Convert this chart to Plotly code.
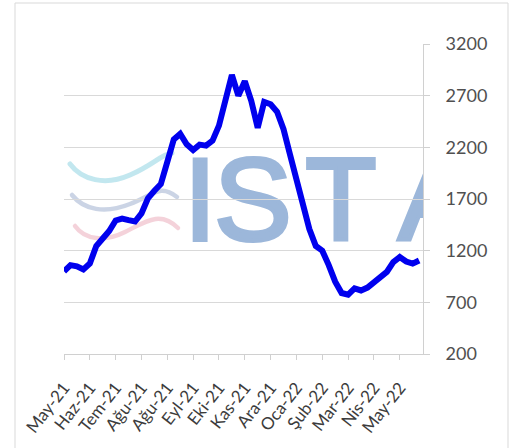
import base64
import plotly.graph_objects as go

# ---- data ----
tick_labels = ["May-21", "Haz-21", "Tem-21", "Ağu-21", "Ağu-21", "Eyl-21", "Eki-21",
               "Kas-21", "Ara-21", "Oca-22", "Şub-22", "Mar-22", "Nis-22", "May-22"]
weekly_values = [1000, 1060, 1048, 1018, 1075, 1245, 1318, 1390, 1492, 1510,
                 1495, 1482, 1560, 1707, 1780, 1845, 2060, 2277, 2330, 2230,
                 2174, 2226, 2216, 2265, 2410, 2680, 2900, 2700, 2840, 2650,
                 2390, 2640, 2617, 2545, 2375, 2130, 1880, 1658, 1410, 1245,
                 1200, 1060, 900, 790, 775, 835, 815, 843, 895, 945,
                 995, 1090, 1138, 1095, 1075, 1105]
weeks = list(range(len(weekly_values)))
tick_positions = [i * 4 for i in range(len(tick_labels))]

# ---- layout geometry ----
W, H = 513, 448
L, R, T, B = 64, 90, 44, 94
plot_w = W - L - R
plot_h = H - T - B
x_range = [0, 55.6]
y_range = [200, 3200]
px_per_x = plot_w / (x_range[1] - x_range[0])
px_per_y = plot_h / (y_range[1] - y_range[0])

# ---- watermark logo (decorative) ----
vb_x0, vb_y0, vb_w, vb_h = 60, 140, 440, 120
svg = f'''<svg xmlns="http://www.w3.org/2000/svg" width="{vb_w}" height="{vb_h}" viewBox="0 0 {vb_w} {vb_h}">
<g fill="none" stroke-linecap="round">
<path d="M 10 24 C 22 40, 45 46, 70 35 S 100 15, 112 13" stroke="#8fd3e2" stroke-width="5" opacity="0.55"/>
<path d="M 12 55 C 24 70, 45 74, 70 64 S 100 44, 117 57" stroke="#98aacb" stroke-width="4.5" opacity="0.5"/>
<path d="M 15 86 C 25 100, 45 102, 65 92 S 100 70, 118 88" stroke="#eaa5b6" stroke-width="4.5" opacity="0.5"/>
</g>
<g fill="#9cb7da" stroke="#9cb7da" stroke-width="4" stroke-linejoin="miter"
   font-family="Liberation Sans, Arial" font-weight="normal" font-size="116" text-anchor="middle">
<text x="140" y="100">I</text>
<text x="193" y="100">S</text>
<text x="281" y="100">T</text>
<text x="377" y="100">A</text>
</g>
</svg>'''
svg_uri = "data:image/svg+xml;base64," + base64.b64encode(svg.encode()).decode()

img_x = x_range[0] + (vb_x0 - L) / px_per_x
img_y = y_range[1] - (vb_y0 - T) / px_per_y

fig = go.Figure()
fig.add_trace(go.Scatter(
    x=weeks, y=weekly_values, mode="lines",
    line=dict(color="#0000ee", width=6),
    hoverinfo="skip", showlegend=False,
))

fig.add_layout_image(dict(
    source=svg_uri, xref="x", yref="y",
    x=img_x, y=img_y,
    sizex=vb_w / px_per_x, sizey=vb_h / px_per_y,
    xanchor="left", yanchor="top", sizing="stretch", layer="below", opacity=1,
))

# outer chart border
fig.add_shape(type="rect", xref="paper", yref="paper",
              x0=(15 - L) / plot_w, x1=(508 - L) / plot_w,
              y0=(T + plot_h - 470) / plot_h, y1=(T + plot_h - 3) / plot_h,
              line=dict(color="#d9d9d9", width=1), fillcolor="rgba(0,0,0,0)", layer="below")

fig.update_layout(
    width=W, height=H,
    margin=dict(l=L, r=R, t=T, b=B),
    paper_bgcolor="white", plot_bgcolor="white",
    font=dict(family="Lato, sans-serif", size=17, color="#404040"),
    xaxis=dict(
        range=x_range, tickmode="array", tickvals=tick_positions, ticktext=tick_labels,
        tickangle=-52, showgrid=False, zeroline=False, automargin=False,
        showline=True, linecolor="#d0d0d0", linewidth=1,
        ticks="outside", ticklen=5, tickcolor="#d0d0d0",
        ticklabelstandoff=11,
        tickfont=dict(size=17, color="#3c3c3c"),
    ),
    yaxis=dict(
        range=y_range, side="right", tick0=200, dtick=500, automargin=False,
        showgrid=True, gridcolor="#d9d9d9", gridwidth=1, zeroline=False,
        showline=True, linecolor="#d0d0d0", linewidth=1,
        ticks="outside", ticklen=6, tickcolor="#d0d0d0",
        ticklabelstandoff=12,
        tickfont=dict(size=18, color="#505050"),
    ),
)

fig.write_html("out.html")
